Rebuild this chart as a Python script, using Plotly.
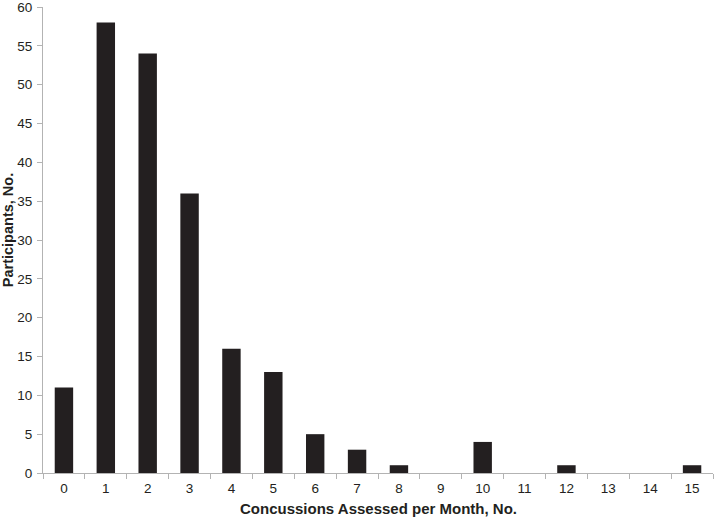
import plotly.graph_objects as go

concussions = [str(i) for i in range(16)]
participants = [11, 58, 54, 36, 16, 13, 5, 3, 1, 0, 4, 0, 1, 0, 0, 1]

FONT = "Liberation Sans, Arial, sans-serif"
INK = "#231f20"
AXIS_GREY = "#b3b3b3"

fig = go.Figure(
    go.Bar(x=concussions, y=participants, marker_color=INK, marker_line_width=0)
)

tick_font = dict(family=FONT, size=13.5, color=INK)

fig.update_layout(
    width=714,
    height=517,
    margin=dict(l=43, r=1, t=7, b=44),
    plot_bgcolor="white",
    paper_bgcolor="white",
    bargap=0.56,
    showlegend=False,
    font=tick_font,
)
fig.update_xaxes(
    type="category",
    range=[-0.5, 15.5],
    tickson="boundaries",
    ticks="outside",
    ticklen=5,
    tickcolor=AXIS_GREY,
    showline=True,
    linecolor=AXIS_GREY,
    linewidth=1,
    showgrid=False,
    tickfont=tick_font,
    ticklabelstandoff=3,
    automargin=False,
)
fig.update_yaxes(
    range=[0, 60],
    dtick=5,
    ticks="outside",
    ticklen=5,
    tickcolor=AXIS_GREY,
    showline=True,
    linecolor=AXIS_GREY,
    linewidth=1,
    showgrid=False,
    zeroline=False,
    tickfont=tick_font,
    ticklabelstandoff=2,
    ticklabeloverflow="allow",
    automargin=False,
)

# axis titles placed as annotations to match the reference positions
fig.add_annotation(
    text="<b>Concussions Assessed per Month, No.</b>",
    xref="paper", yref="paper", x=0.5, y=0,
    xanchor="center", yanchor="middle", yshift=-35,
    showarrow=False, font=dict(family=FONT, size=15, color=INK),
)
fig.add_annotation(
    text="<b>Participants, No.</b>",
    xref="paper", yref="paper", x=0, y=0.521,
    xanchor="center", yanchor="middle", xshift=-35,
    textangle=-90, showarrow=False, font=dict(family=FONT, size=14.5, color=INK),
)

# page body has a default 8px margin; drop it so the figure fills the window
fig.write_html(
    "out.html",
    config={"displayModeBar": False},
    post_script="document.body.style.margin='0';",
)
